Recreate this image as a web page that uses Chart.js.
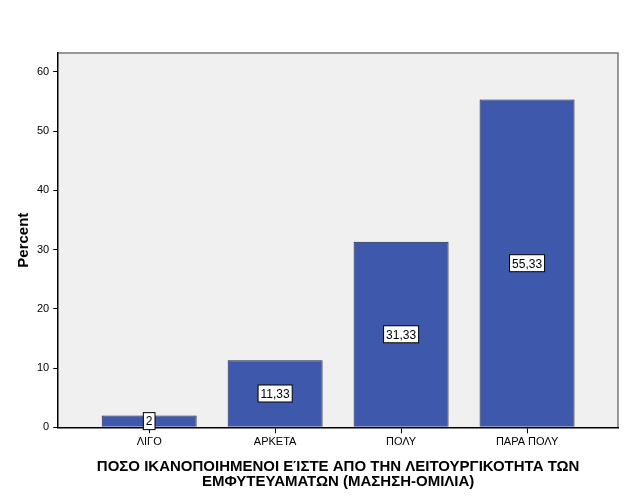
<!DOCTYPE html>
<html>
<head>
<meta charset="utf-8">
<script src="https://cdn.jsdelivr.net/npm/chart.js@4"></script>
<style>
  html, body { margin: 0; padding: 0; background: #fff; }
  #wrap { width: 626px; height: 501px; }
</style>
</head>
<body>
<div id="wrap"><canvas id="chartPercent"></canvas></div>
<script>
// categories and values
const categories = ['ΛΙΓΟ', 'ΑΡΚΕΤΑ', 'ΠΟΛΥ', 'ΠΑΡΑ ΠΟΛΥ'];
const percents = [2, 11.33, 31.33, 55.33];
const yTicks = [0, 10, 20, 30, 40, 50, 60];

const plotBg = {
    id: 'plotBg',
    beforeDraw(chart) {
        const a = chart.chartArea, ctx = chart.ctx;
        ctx.save();
        ctx.fillStyle = '#f0f0f0';
        ctx.fillRect(a.left, a.top, a.right - a.left, a.bottom - a.top);
        ctx.strokeStyle = '#7a7a7a';
        ctx.lineWidth = 1.5;
        ctx.beginPath();
        ctx.moveTo(a.left, a.top);
        ctx.lineTo(a.right, a.top);
        ctx.lineTo(a.right, a.bottom);
        ctx.stroke();
        ctx.restore();
    }
};

function fmt(v) {
    return String(Math.round(v * 100) / 100).replace('.', ',');
}

const barLabels = {
    id: 'barLabels',
    afterDatasetsDraw(chart) {
        const ctx = chart.ctx;
        const meta = chart.getDatasetMeta(0);
        ctx.save();
        ctx.font = '12px "Liberation Sans", Arial, sans-serif';
        ctx.textAlign = 'center';
        ctx.textBaseline = 'middle';
        meta.data.forEach((bar, i) => {
            const txt = fmt(percents[i]);
            const w = ctx.measureText(txt).width + 5;
            const h = 17;
            const cy = (bar.y + bar.base) / 2;
            ctx.fillStyle = '#fff';
            ctx.fillRect(bar.x - w / 2, cy - h / 2, w, h);
            ctx.strokeStyle = '#000';
            ctx.lineWidth = 1;
            ctx.strokeRect(bar.x - w / 2, cy - h / 2, w, h);
            ctx.fillStyle = '#000';
            ctx.fillText(txt, bar.x, cy + 1);
        });
        ctx.restore();
    }
};

const config = {
    type: 'bar',
    data: {
        datasets: [{
            data: percents.map((p, i) => ({ x: i, y: p })),
            backgroundColor: '#3e58ac',
            borderColor: '#1c2040',
            borderWidth: 1,
            borderSkipped: 'bottom',
            barPercentage: 0.754,
            categoryPercentage: 1
        }]
    },
    options: {
        responsive: true,
        maintainAspectRatio: false,
        animation: false,
        layout: { padding: { top: 53, right: 8, left: 15, bottom: 11 } },
        plugins: {
            legend: { display: false },
            tooltip: { enabled: false }
        },
        scales: {
            x: {
                type: 'linear',
                offset: false,
                min: -0.722,
                max: 3.722,
                afterBuildTicks(axis) {
                    axis.ticks = categories.map((c, i) => ({ value: i }));
                },
                ticks: {
                    callback: (v) => categories[v],
                    color: '#000',
                    font: { family: '"Liberation Sans", Arial, sans-serif', size: 11 },
                    padding: 2,
                    maxRotation: 0
                },
                grid: { drawOnChartArea: false, offset: false, color: '#000', lineWidth: 1, tickLength: 6 },
                border: { color: '#000', width: 1.5 },
                title: {
                    display: true,
                    text: ['ΠΟΣΟ ΙΚΑΝΟΠΟΙΗΜΕΝΟΙ ΕΊΣΤΕ ΑΠΟ ΤΗΝ ΛΕΙΤΟΥΡΓΙΚΟΤΗΤΑ ΤΩΝ', 'ΕΜΦΥΤΕΥΑΜΑΤΩΝ (ΜΑΣΗΣΗ-ΟΜΙΛΙΑ)'],
                    color: '#000',
                    font: { family: '"Liberation Sans", Arial, sans-serif', size: 15, weight: 'bold', lineHeight: 1.05 },
                    padding: { top: 8, bottom: 0 }
                }
            },
            y: {
                min: 0,
                max: 63.2,
                afterBuildTicks(axis) {
                    axis.ticks = yTicks.map(v => ({ value: v }));
                },
                ticks: {
                    color: '#000',
                    font: { family: '"Liberation Sans", Arial, sans-serif', size: 11 },
                    padding: 4
                },
                grid: { drawOnChartArea: false, color: '#000', lineWidth: 1, tickLength: 5 },
                border: { color: '#000', width: 1.5 },
                title: {
                    display: true,
                    text: 'Percent',
                    color: '#000',
                    font: { family: '"Liberation Sans", Arial, sans-serif', size: 15, weight: 'bold' },
                    padding: { top: 0, bottom: 0 }
                }
            }
        }
    },
    plugins: [plotBg, barLabels]
};

new Chart('chartPercent', config);
</script>
</body>
</html>
